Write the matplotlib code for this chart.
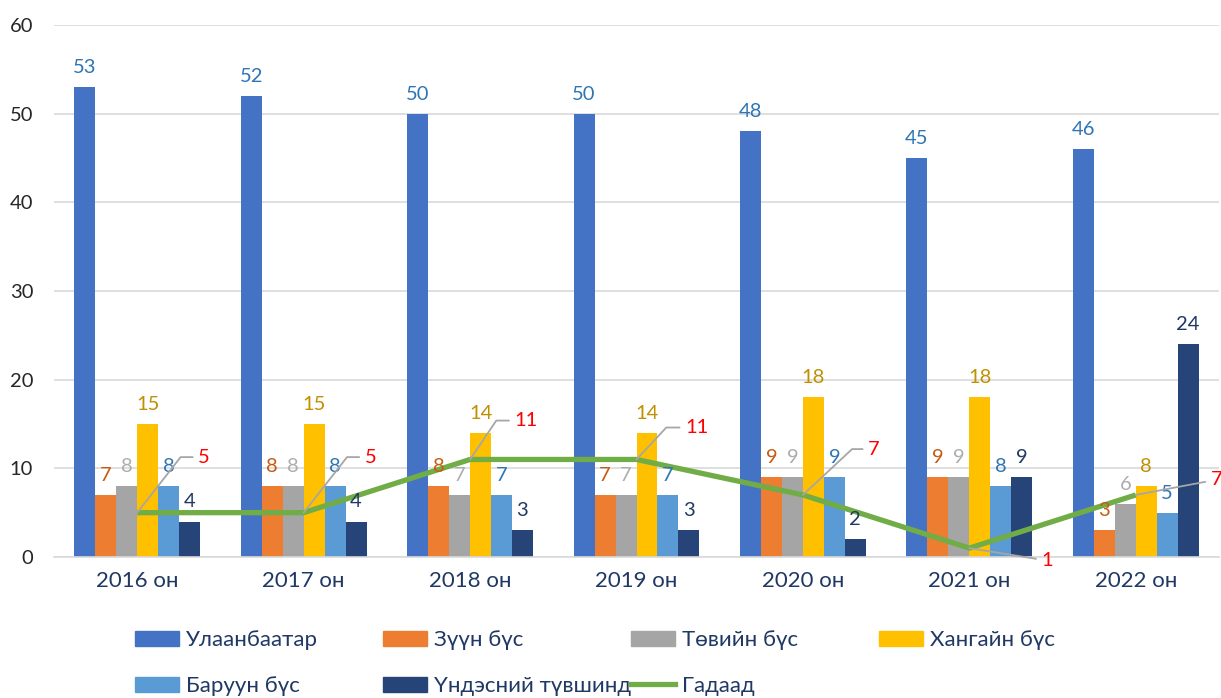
import numpy as np
import matplotlib.pyplot as plt
from matplotlib.patches import Patch
from matplotlib.lines import Line2D

plt.rcParams["font.family"] = ["Lato", "Open Sans", "DejaVu Sans"]

years = ["2016 он", "2017 он", "2018 он", "2019 он", "2020 он", "2021 он", "2022 он"]

ulaanbaatar = [53, 52, 50, 50, 48, 45, 46]
zuun = [7, 8, 8, 7, 9, 9, 3]
tuv = [8, 8, 7, 7, 9, 9, 6]
khangai = [15, 15, 14, 14, 18, 18, 8]
baruun = [8, 8, 7, 7, 9, 8, 5]
undesnii = [4, 4, 3, 3, 2, 9, 24]
gadaad = [5, 5, 11, 11, 7, 1, 7]

bar_names = ["Улаанбаатар", "Зүүн бүс", "Төвийн бүс", "Хангайн бүс",
             "Баруун бүс", "Үндэсний түвшинд"]
line_name = "Гадаад"

bar_colors = ["#4472C4", "#ED7D31", "#A5A5A5", "#FFC000", "#5B9BD5", "#264478"]
label_colors = ["#2E75B6", "#C55A11", "#ADADAD", "#BF9000", "#2E75B6", "#203864"]
line_color = "#70AD47"
navy = "#1F3864"

# leader-line label offsets for "Гадаад" (points) and leader angle
gad_offsets = [(44, 40, 52), (44, 40, 52), (32, 28, 56), (35, 23, 47),
               (47, 33, 43), (52, -9, None), (54, 11, None)]

# --------------------------------------------------------------------------- #
W, H = 1221, 698
fig = plt.figure(figsize=(W / 100, H / 100), dpi=100)
ax = fig.add_axes([54 / W, (698 - 557) / H, (1219 - 54) / W, (557 - 25) / H])

x = np.arange(len(years))
w = 0.126
series = [ulaanbaatar, zuun, tuv, khangai, baruun, undesnii]

for k, vals in enumerate(series):
    xs = x + (k - 2.5) * w
    ax.bar(xs, vals, width=w, color=bar_colors[k], zorder=2)
    for xi, v in zip(xs, vals):
        ax.annotate(str(v), (xi, v), xytext=(0, 8), textcoords="offset points",
                    ha="center", va="bottom", fontsize=14.5,
                    color=label_colors[k], zorder=5)

ax.plot(x, gadaad, color=line_color, lw=3.8, zorder=3, solid_capstyle="butt")

for xi, v, (dx, dy, ang) in zip(x, gadaad, gad_offsets):
    if ang is None:
        cs = "arc3"
    else:
        cs = f"angle,angleA=0,angleB={ang},rad=0"
    ax.annotate(str(v), (xi, v), xytext=(dx, dy), textcoords="offset points",
                ha="left", va="center", fontsize=14.5, color="#FF0000", zorder=6,
                arrowprops=dict(arrowstyle="-", color="#A6A6A6", lw=1.3,
                                connectionstyle=cs, shrinkA=2, shrinkB=0))

ax.set_xlim(-0.5, len(years) - 0.5)
ax.set_ylim(0, 60)
ax.set_yticks(np.arange(0, 61, 10))
ax.set_xticks(x)
ax.set_xticklabels(years, fontsize=16, color=navy)
ax.tick_params(axis="y", labelsize=14.5, labelcolor="#262626", length=0, pad=15)
ax.tick_params(axis="x", length=0, pad=10)
ax.grid(axis="y", color="#D9D9D9", lw=1.2, zorder=0)
for s in ["top", "right", "left"]:
    ax.spines[s].set_visible(False)
ax.spines["bottom"].set_color("#D9D9D9")
ax.spines["bottom"].set_linewidth(1.2)

# legend laid out on an even grid like the original
handles = [Patch(color=c) for c in bar_colors] + \
          [Line2D([], [], color=line_color, lw=3.8)]
labels = bar_names + [line_name]
for i, (h, lab) in enumerate(zip(handles, labels)):
    col, row = i % 4, i // 4
    lx = (135 + 248 * col) / W
    ly = 1 - (640 + 46 * row) / H
    leg = fig.legend([h], [lab], loc="center left", bbox_to_anchor=(lx, ly),
                     frameon=False, fontsize=16, handlelength=2.0,
                     handleheight=0.68, handletextpad=0.3, borderpad=0,
                     borderaxespad=0)
    for t in leg.get_texts():
        t.set_color(navy)

plt.savefig("out.png", dpi=100)
